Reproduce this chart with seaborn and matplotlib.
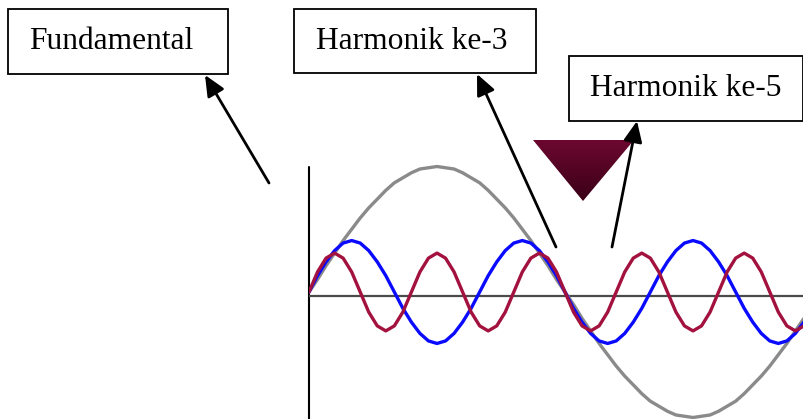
import numpy as np
import seaborn as sns
import matplotlib.pyplot as plt
from matplotlib.patches import Rectangle, Polygon
from matplotlib.colors import LinearSegmentedColormap

# sample angle (degrees of the fundamental), one point every 6 degrees
angle = np.arange(0, 349, 6)

# wave heights, fundamental amplitude = 1
fundamental = [0.00, 0.10, 0.21, 0.31, 0.41, 0.50, 0.59, 0.67, 0.74, 0.81,
               0.87, 0.91, 0.95, 0.98, 0.99, 1.00, 0.99, 0.98, 0.95, 0.91,
               0.87, 0.81, 0.74, 0.67, 0.59, 0.50, 0.41, 0.31, 0.21, 0.10,
               0.00, -0.10, -0.21, -0.31, -0.41, -0.50, -0.59, -0.67, -0.74, -0.81,
               -0.87, -0.91, -0.95, -0.98, -0.99, -1.00, -0.99, -0.98, -0.95, -0.91,
               -0.87, -0.81, -0.74, -0.67, -0.59, -0.50, -0.41, -0.31, -0.21]
harmonic3 = [0.00, 0.13, 0.24, 0.33, 0.39, 0.41, 0.39, 0.33, 0.24, 0.13,
             0.00, -0.13, -0.24, -0.33, -0.39, -0.41, -0.39, -0.33, -0.24, -0.13,
             0.00, 0.13, 0.24, 0.33, 0.39, 0.41, 0.39, 0.33, 0.24, 0.13,
             0.00, -0.13, -0.24, -0.33, -0.39, -0.41, -0.39, -0.33, -0.24, -0.13,
             0.00, 0.13, 0.24, 0.33, 0.39, 0.41, 0.39, 0.33, 0.24, 0.13,
             0.00, -0.13, -0.24, -0.33, -0.39, -0.41, -0.39, -0.33, -0.24]
harmonic5 = [0.00, 0.16, 0.27, 0.31, 0.27, 0.16, 0.00, -0.16, -0.27, -0.31, -0.27, -0.16,
             0.00, 0.16, 0.27, 0.31, 0.27, 0.16, 0.00, -0.16, -0.27, -0.31, -0.27, -0.16,
             0.00, 0.16, 0.27, 0.31, 0.27, 0.16, 0.00, -0.16, -0.27, -0.31, -0.27, -0.16,
             0.00, 0.16, 0.27, 0.31, 0.27, 0.16, 0.00, -0.16, -0.27, -0.31, -0.27, -0.16,
             0.00, 0.16, 0.27, 0.31, 0.27, 0.16, 0.00, -0.16, -0.27, -0.31, -0.27]

labels = ["Fundamental", "Harmonik ke-3", "Harmonik ke-5"]

sns.set_style("white")
plt.rcParams['font.family'] = ['Liberation Serif', 'DejaVu Serif']

fig = plt.figure(figsize=(8.04, 4.19), dpi=100)

# wave panel, 0 deg at x=309px, 360 deg at x=821px, amplitude 1 = 125.5px
ax = fig.add_axes([309 / 804, 0, 495 / 804, 269 / 419])
ax.set_xlim(0, 348.05)
ax.set_ylim(-127 / 125.5, 142 / 125.5)
ax.axis('off')
ax.plot([0, 0], [-1.1, 0.996], color='black', lw=1.5, clip_on=False)
ax.axhline(-0.032, color='#4a4a4a', lw=1.6)
sns.lineplot(x=angle, y=fundamental, ax=ax, color='#8a8a8a', lw=2.4)
sns.lineplot(x=angle, y=harmonic3, ax=ax, color='#0a0aff', lw=2.4)
sns.lineplot(x=angle, y=harmonic5, ax=ax, color='#a3123f', lw=2.4)

# annotation layer in pixel coordinates
ov = fig.add_axes([0, 0, 1, 1], zorder=5)
ov.patch.set_alpha(0)
ov.axis('off')

boxes = [(8, 9, 220, 65), (294, 9, 242, 64), (569, 56, 234, 65)]
text_pos = [(29, 49), (316, 49), (590, 96)]
arrows = [((269, 183), (205, 75)), ((556, 247), (477, 74)), ((612, 247), (637, 121))]

for (bx, by, bw, bh), (tx, ty), lab in zip(boxes, text_pos, labels):
    ov.add_patch(Rectangle((bx, by), bw, bh, fill=True, facecolor='white',
                           edgecolor='black', lw=1.3))
    ov.text(tx, ty, lab, fontsize=22.7, va='baseline', ha='left', color='black')

for tail, head in arrows:
    ov.annotate('', xy=head, xytext=tail,
                arrowprops=dict(arrowstyle='-|>,head_length=0.6,head_width=0.27',
                                mutation_scale=21, lw=2.0, color='black',
                                shrinkA=0, shrinkB=0))

# dark red gradient triangle
tri = Polygon([(533, 140), (634, 140), (583, 201)], closed=True,
              facecolor='none', edgecolor='none')
ov.add_patch(tri)
cmap = LinearSegmentedColormap.from_list('tri', ['#6c0830', '#3a0016'])
grad = np.linspace(0, 1, 64).reshape(-1, 1)
img = ov.imshow(grad, cmap=cmap, extent=(533, 634, 201, 140), origin='upper',
                aspect='auto', interpolation='bilinear')
img.set_clip_path(tri)

ov.set_xlim(0, 804)
ov.set_ylim(419, 0)

fig.savefig('out.png', dpi=100)
